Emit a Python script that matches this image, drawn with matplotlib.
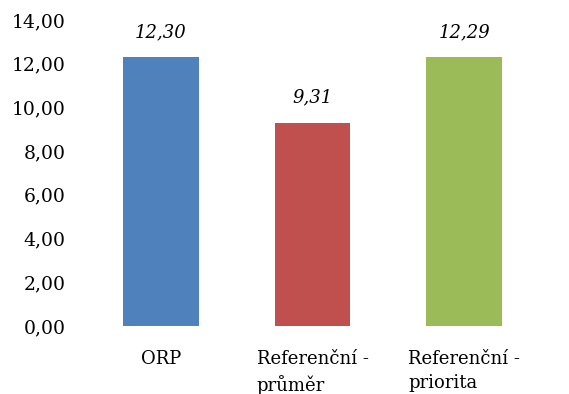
import matplotlib
matplotlib.use("Agg")
import matplotlib.pyplot as plt

categories = ["ORP", "Referenční -\nprůměr", "Referenční -\npriorita"]
values = [12.30, 9.31, 12.29]
value_labels = ["12,30", "9,31", "12,29"]
colors = ["#4F81BD", "#C0504D", "#9BBB59"]
yticks = [0, 2, 4, 6, 8, 10, 12, 14]

plt.rcParams["font.family"] = ["DejaVu Serif"]

fig = plt.figure(figsize=(5.69, 3.94), dpi=100)
ax = fig.add_axes([85 / 569, 1 - 326 / 394, (540 - 85) / 569, (326 - 20) / 394])

x = range(len(categories))
ax.bar(x, values, width=0.5, color=colors)

for xi, v, lab in zip(x, values, value_labels):
    ax.annotate(lab, (xi, v), xytext=(0, 25), textcoords="offset pixels",
                ha="center", va="center", fontsize=13, style="italic")

ax.set_xlim(-0.5, len(categories) - 0.5)
ax.set_ylim(0, 14)
ax.set_yticks(yticks)
ax.set_yticklabels([f"{t:.2f}".replace(".", ",") for t in yticks], fontsize=13.5)
ax.set_xticks(list(x))
ax.set_xticklabels(categories, fontsize=13, multialignment="left", linespacing=1.45)
ax.tick_params(axis="y", length=0, pad=14)
ax.tick_params(axis="x", length=0, pad=17)
for s in ax.spines.values():
    s.set_visible(False)

fig.savefig("out.png", dpi=100)
